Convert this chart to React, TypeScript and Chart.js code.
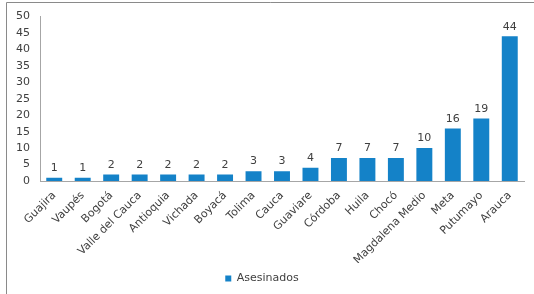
import React, { useEffect, useRef } from "react";
import { Chart, registerables } from "chart.js";

Chart.register(...registerables);

const categories = [
  "Guajira", "Vaupés", "Bogotá", "Valle del Cauca", "Antioquia", "Vichada", "Boyacá",
  "Tolima", "Cauca", "Guaviare", "Córdoba", "Huila", "Chocó", "Magdalena Medio",
  "Meta", "Putumayo", "Arauca",
];
const seriesName = "Asesinados";
const asesinados = [1, 1, 2, 2, 2, 2, 2, 3, 3, 4, 7, 7, 7, 10, 16, 19, 44];
const yMin = 0;
const yMax = 50;
const yStep = 5;

const FONT = "'DejaVu Sans', Verdana, sans-serif";
const TEXT = "#404040";
const BAR = "#1482c8";

const framePlugin = {
  id: "frame",
  beforeDraw(chart: any) {
    const ctx = chart.ctx;
    ctx.save();
    ctx.strokeStyle = "#8a8a8a";
    ctx.lineWidth = 1;
    ctx.beginPath();
    ctx.moveTo(6.5, chart.height);
    ctx.lineTo(6.5, 2.5);
    ctx.lineTo(chart.width, 2.5);
    ctx.stroke();
    ctx.restore();
  },
};

const valueLabels = {
  id: "valueLabels",
  afterDatasetsDraw(chart: any) {
    const ctx = chart.ctx;
    const meta = chart.getDatasetMeta(0);
    const data = chart.data.datasets[0].data;
    ctx.save();
    ctx.font = `11px ${FONT}`;
    ctx.fillStyle = TEXT;
    ctx.textAlign = "center";
    ctx.textBaseline = "bottom";
    meta.data.forEach((bar: any, i: number) => {
      ctx.fillText(String(data[i]), bar.x, bar.y - 4);
    });
    ctx.restore();
  },
};

export default function App() {
  const ref = useRef<HTMLCanvasElement>(null);
  useEffect(() => {
    document.body.style.margin = "0";
    const chart = new Chart(ref.current!, {
      type: "bar",
      data: {
        labels: categories,
        datasets: [
          {
            label: seriesName,
            data: asesinados,
            backgroundColor: BAR,
            borderWidth: 0,
            barPercentage: 0.56,
            categoryPercentage: 1,
          },
        ],
      },
      options: {
        animation: false,
        responsive: false,
        maintainAspectRatio: false,
        layout: { padding: { left: 0, right: 10, top: 15, bottom: 0 } },
        plugins: {
          legend: {
            position: "bottom",
            labels: {
              boxWidth: 6,
              boxHeight: 6,
              padding: 10,
              color: TEXT,
              font: { family: FONT, size: 11 },
            },
          },
          tooltip: { enabled: false },
        },
        scales: {
          x: {
            grid: { display: false, drawTicks: false },
            border: { display: true, color: "#a6a6a6", width: 1 },
            ticks: {
              minRotation: 45,
              maxRotation: 45,
              autoSkip: false,
              padding: 8,
              color: TEXT,
              font: { family: FONT, size: 11 },
            },
            afterFit(scale: any) {
              scale.height = 82;
            },
          },
          y: {
            min: yMin,
            max: yMax,
            grid: { display: false, drawTicks: false },
            border: { display: true, color: "#a6a6a6", width: 1 },
            ticks: {
              stepSize: yStep,
              padding: 10,
              color: TEXT,
              font: { family: FONT, size: 11 },
            },
            afterFit(scale: any) {
              scale.width = 40;
            },
          },
        },
      },
      plugins: [framePlugin, valueLabels],
    });
    return () => chart.destroy();
  }, []);
  return (
    <div style={{ width: 534, height: 294 }}>
      <canvas ref={ref} width={534} height={294} style={{ display: "block" }} />
    </div>
  );
}
